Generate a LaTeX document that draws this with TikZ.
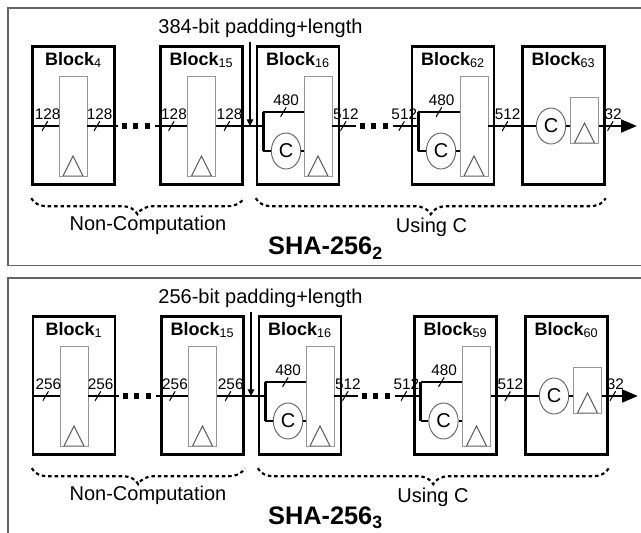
\documentclass[tikz,border=0pt]{standalone}
\usepackage{fontspec}
\setmainfont{Liberation Sans}
\usepackage{xcolor}
\usetikzlibrary{arrows.meta,positioning,calc,shapes.geometric,decorations.pathreplacing}
\definecolor{framegray}{RGB}{100,100,100}
\definecolor{reggray}{RGB}{150,150,150}

\begin{document}
\begin{tikzpicture}[x=0.75pt, y=-0.75pt, >=Latex,
  blk/.style={draw, line width=1.8pt, minimum width=61.5pt, minimum height=103.5pt, inner sep=0pt},
  reg/.style={draw=reggray, line width=0.7pt, minimum width=21pt, minimum height=75pt, inner sep=0pt,
    path picture={\draw[black!65, line width=0.7pt] ([xshift=3pt]path picture bounding box.south west)
      -- ([yshift=15pt]path picture bounding box.south) -- ([xshift=-3pt]path picture bounding box.south east) -- cycle;}},
  sreg/.style={reg, minimum height=34.5pt},
  cmp/.style={ellipse, draw=black!60, line width=0.7pt, minimum width=22pt, minimum height=27pt, inner sep=0pt,
    font=\fontsize{15}{15}\selectfont},
  lbl/.style={font=\fontsize{13.5}{14}\selectfont},
  txt/.style={font=\fontsize{15}{16}\selectfont},
  ttl/.style={font=\fontsize{19}{20}\selectfont\bfseries},
  sig/.style={line width=2.2pt},
  dots/.style={line width=3.8pt, dash pattern=on 3.75pt off 5pt, dash phase=6.1pt},
  bus/.style={inner sep=0pt, minimum width=4.5pt, minimum height=7.5pt,
    path picture={\draw[line width=0.8pt] (path picture bounding box.south west) -- (path picture bounding box.north east);},
    label={[font=\fontsize{11.5}{12}\selectfont, inner sep=0.6pt, xshift=2pt]above:#1}},
  brc/.style={decorate, decoration={brace, mirror, amplitude=12pt}, line width=1.6pt, dash pattern=on 2.6pt off 2.2pt},
  frm/.style={draw=framegray, line width=1.2pt}]
\useasboundingbox (0,0) rectangle (641,532);
\clip (0,0) rectangle (641,532);

% SHA-256_2
\draw[frm] (8,8) rectangle (700,265.5);
\node[txt] (pad1) at (260.5,28) {384-bit padding+length};
\node[blk] (a1) at (73.5,115.5) {};
\node[blk] (a2) at (201.5,115.5) {};
\node[blk] (a3) at (298,115.5) {};
\node[blk] (a4) at (453,115.5) {};
\node[blk] (a5) at (563.5,115.5) {};
\node[lbl, below=1.5pt of a1.north] (ta1) {\textbf{Block}\textsubscript{4}};
\node[lbl, below=1.5pt of a2.north] (ta2) {\textbf{Block}\textsubscript{15}};
\node[lbl, below=1.5pt of a3.north] (ta3) {\textbf{Block}\textsubscript{16}};
\node[lbl, below=1.5pt of a4.north] (ta4) {\textbf{Block}\textsubscript{62}};
\node[lbl, below=1.5pt of a5.north] (ta5) {\textbf{Block}\textsubscript{63}};
\node[reg] (ra1) at (73,126) {};
\node[reg] (ra2) at (201.5,126) {};
\node[reg] (ra3) at (318,126) {};
\node[reg] (ra4) at (474,126) {};
\node[sreg] (ra5) at (584.5,120) {};
\node[cmp] (ca3) at (286,151) {C};
\node[cmp] (ca4) at (441,151) {C};
\node[cmp] (ca5) at (551,126) {C};
\coordinate (ma) at (250,126);
\coordinate (da1) at (118,126);
\coordinate (da2) at (155,126);
\coordinate (da3) at (356,126);
\coordinate (da4) at (393,126);
\coordinate (ja3t) at (263.3,112);
\coordinate (ja3b) at (263.3,151);
\coordinate (ja4t) at (418.3,112);
\coordinate (ja4b) at (418.3,151);
\coordinate (oa) at (637,126);
\draw[sig] (a1.west |- ra1) -- (ra1.west);
\draw[sig] (ra1.east) -- (da1);
\draw[dots] (da1) -- (da2);
\draw[sig] (da2) -- (ra2.west);
\draw[sig] (ra2.east) -- (ja3t |- ra2);
\draw[line width=0.8pt, -{Triangle[width=5pt,length=5pt]}] (ma |- pad1.south) -- (ma);
\draw[sig] (ja3t) -- (ja3b);
\draw[sig] (ja3t) -- (ja3t -| ra3.west);
\draw[sig] (ja3b) -- (ca3);
\draw[sig] (ca3) -- (ca3 -| ra3.west);
\draw[sig] (ra3.east) -- (da3);
\draw[dots] (da3) -- (da4);
\draw[sig] (da4) -- (ja4t |- ra4);
\draw[sig] (ja4t) -- (ja4b);
\draw[sig] (ja4t) -- (ja4t -| ra4.west);
\draw[sig] (ja4b) -- (ca4);
\draw[sig] (ca4) -- (ca4 -| ra4.west);
\draw[sig] (ra4.east) -- (ca5);
\draw[sig] (ca5) -- (ca5 -| ra5.west);
\draw[sig, -{Triangle[length=12pt,width=9.5pt]}] (ca5 -| ra5.east) -- (oa);
% bus widths
\path (a1.west |- ra1) -- node[bus=128]{} (ra1.west);
\path (ra1.east) -- node[bus=128, pos=0.31]{} (da1);
\path (da2) -- node[bus=128, pos=0.51]{} (ra2.west);
\path (ra2.east) -- node[bus=128, pos=0.23]{} (ja3t |- ra2);
\path (ja3t) -- node[bus=480]{} (ja3t -| ra3.west);
\path (ra3.east) -- node[bus=512, pos=0.46]{} (da3);
\path (da4) -- node[bus=512, pos=0.34]{} (ja4t |- ra4);
\path (ja4t) -- node[bus=480]{} (ja4t -| ra4.west);
\path (ra4.east) -- node[bus=512, pos=0.35]{} (ca5);
\path (ca5 -| ra5.east) -- node[bus=32, pos=0.3]{} (oa);
\draw[brc] ($(a1.south west)+(0,12.5)$) -- ($(a2.south east)+(0,12.5)$);
\draw[brc] ($(a3.south west)+(0,12.5)$) -- ($(a5.south east)+(0,12.5)$);
\node[txt] (nca) at (148,225) {Non-Computation};
\node[txt] (uca) at (431.5,227) {Using C};
\node[ttl] (sa) at (325.5,248) {SHA-256\textsubscript{2}};

% SHA-256_3
\draw[frm] (8,278) rectangle (700,600);
\node[txt] (pad2) at (260.5,298) {256-bit padding+length};
\node[blk] (b1) at (74,385.5) {};
\node[blk] (b2) at (202.5,385.5) {};
\node[blk] (b3) at (300,385.5) {};
\node[blk] (b4) at (455.5,385.5) {};
\node[blk] (b5) at (566.5,385.5) {};
\node[lbl, below=1.5pt of b1.north] (tb1) {\textbf{Block}\textsubscript{1}};
\node[lbl, below=1.5pt of b2.north] (tb2) {\textbf{Block}\textsubscript{15}};
\node[lbl, below=1.5pt of b3.north] (tb3) {\textbf{Block}\textsubscript{16}};
\node[lbl, below=1.5pt of b4.north] (tb4) {\textbf{Block}\textsubscript{59}};
\node[lbl, below=1.5pt of b5.north] (tb5) {\textbf{Block}\textsubscript{60}};
\node[reg] (rb1) at (74,396) {};
\node[reg] (rb2) at (202.5,396) {};
\node[reg] (rb3) at (320,396) {};
\node[reg] (rb4) at (476.5,396) {};
\node[sreg] (rb5) at (587.5,390) {};
\node[cmp] (cb3) at (288,421) {C};
\node[cmp] (cb4) at (443.5,421) {C};
\node[cmp] (cb5) at (554,396) {C};
\coordinate (mb) at (251,396);
\coordinate (db1) at (119,396);
\coordinate (db2) at (156,396);
\coordinate (db3) at (358,396);
\coordinate (db4) at (395,396);
\coordinate (jb3t) at (265.3,382);
\coordinate (jb3b) at (265.3,421);
\coordinate (jb4t) at (420.8,382);
\coordinate (jb4b) at (420.8,421);
\coordinate (ob) at (638,396);
\draw[sig] (b1.west |- rb1) -- (rb1.west);
\draw[sig] (rb1.east) -- (db1);
\draw[dots] (db1) -- (db2);
\draw[sig] (db2) -- (rb2.west);
\draw[sig] (rb2.east) -- (jb3t |- rb2);
\draw[line width=0.8pt, -{Triangle[width=5pt,length=5pt]}] (mb |- pad2.south) -- (mb);
\draw[sig] (jb3t) -- (jb3b);
\draw[sig] (jb3t) -- (jb3t -| rb3.west);
\draw[sig] (jb3b) -- (cb3);
\draw[sig] (cb3) -- (cb3 -| rb3.west);
\draw[sig] (rb3.east) -- (db3);
\draw[dots] (db3) -- (db4);
\draw[sig] (db4) -- (jb4t |- rb4);
\draw[sig] (jb4t) -- (jb4b);
\draw[sig] (jb4t) -- (jb4t -| rb4.west);
\draw[sig] (jb4b) -- (cb4);
\draw[sig] (cb4) -- (cb4 -| rb4.west);
\draw[sig] (rb4.east) -- (cb5);
\draw[sig] (cb5) -- (cb5 -| rb5.west);
\draw[sig, -{Triangle[length=12pt,width=9.5pt]}] (cb5 -| rb5.east) -- (ob);
% bus widths
\path (b1.west |- rb1) -- node[bus=256]{} (rb1.west);
\path (rb1.east) -- node[bus=256, pos=0.31]{} (db1);
\path (db2) -- node[bus=256, pos=0.51]{} (rb2.west);
\path (rb2.east) -- node[bus=256, pos=0.23]{} (jb3t |- rb2);
\path (jb3t) -- node[bus=480]{} (jb3t -| rb3.west);
\path (rb3.east) -- node[bus=512, pos=0.46]{} (db3);
\path (db4) -- node[bus=512, pos=0.34]{} (jb4t |- rb4);
\path (jb4t) -- node[bus=480]{} (jb4t -| rb4.west);
\path (rb4.east) -- node[bus=512, pos=0.35]{} (cb5);
\path (cb5 -| rb5.east) -- node[bus=32, pos=0.3]{} (ob);
\draw[brc] ($(b1.south west)+(0,12.5)$) -- ($(b2.south east)+(0,12.5)$);
\draw[brc] ($(b3.south west)+(0,12.5)$) -- ($(b5.south east)+(0,12.5)$);
\node[txt] (ncb) at (148,495) {Non-Computation};
\node[txt] (ucb) at (433,497) {Using C};
\node[ttl] (sb) at (325.5,518) {SHA-256\textsubscript{3}};
\end{tikzpicture}
\end{document}
